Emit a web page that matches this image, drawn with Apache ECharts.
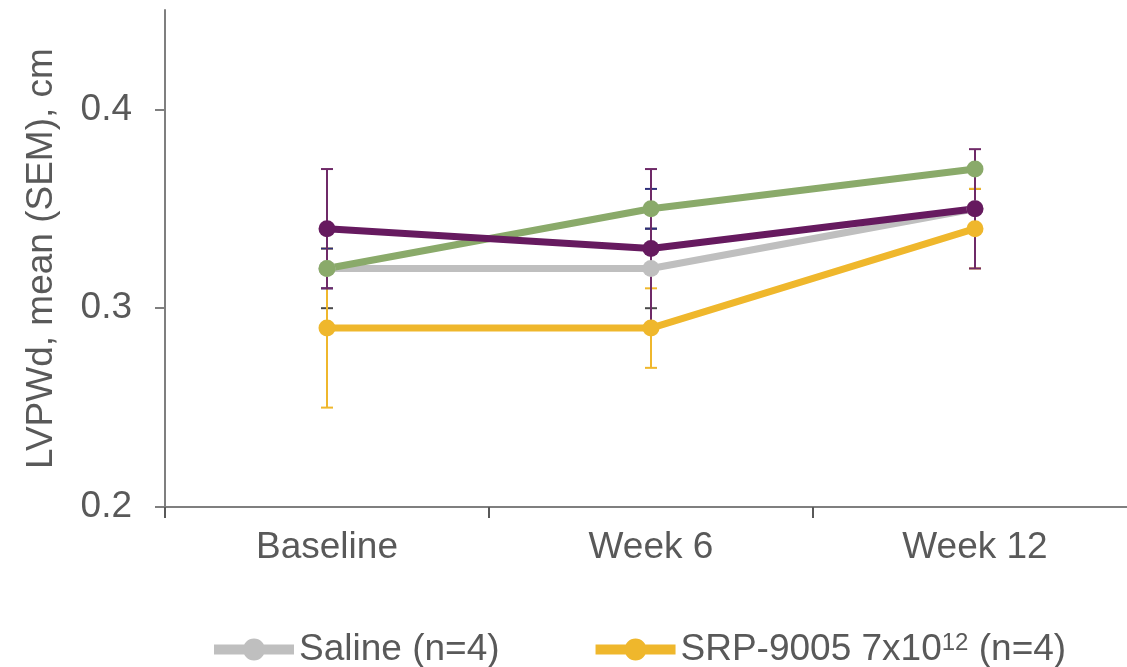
<!DOCTYPE html>
<html>
<head>
<meta charset="utf-8">
<title>LVPWd over time</title>
<script src="https://cdn.jsdelivr.net/npm/echarts@6/dist/echarts.min.js"></script>
<style>
  html, body { margin: 0; padding: 0; background: #fff; }
  #chart { width: 1127px; height: 667px; }
</style>
</head>
<body>
<div id="chart"></div>
<script>
// Time points on the x axis
const categories = ['Baseline', 'Week 6', 'Week 12'];
// Y-axis tick labels
const yTicks = [0.2, 0.3, 0.4];

// Group means (cm)
const salineMean = [0.32, 0.32, 0.35];
const lowDoseMean = [0.29, 0.29, 0.34];
const group3Mean = [0.32, 0.35, 0.37];
const group4Mean = [0.34, 0.33, 0.35];

// Standard errors of the mean (cm)
const salineSem = [0.02, 0.02, 0.01];
const lowDoseSem = [0.04, 0.02, 0.02];
const group3Sem = [0.01, 0.01, 0];
const group4Sem = [0.03, 0.04, 0.03];

const TEXT = '#595959';
const FONT = 'Liberation Sans, Arial, sans-serif';

const groups = [
  { name: 'Saline (n=4)', mean: salineMean, sem: salineSem, color: '#bfbfbf', errColor: '#4a4a4a' },
  { name: 'SRP-9005 7x10^12 (n=4)', mean: lowDoseMean, sem: lowDoseSem, color: '#efb72c', errColor: '#efb72c' },
  { name: 'Group 3', mean: group3Mean, sem: group3Sem, color: '#8aaa6a', errColor: '#2e2f7a' },
  { name: 'Group 4', mean: group4Mean, sem: group4Sem, color: '#661a5f', errColor: '#6f2a68' }
];

// Legend glyph: thick line with a dot in the middle (80 x 24 box)
const LEGEND_ICON = 'path://M0 7 H80 V17 H0 Z M40 1 A11 11 0 1 1 40 23 A11 11 0 1 1 40 1 Z';

// Error bar: vertical whisker with a short cap at each end
function errorBarRenderer(color) {
  return function (params, api) {
    const x = api.value(0);
    if (api.value(1) === api.value(2)) return null;
    const lo = api.coord([x, api.value(1)]);
    const hi = api.coord([x, api.value(2)]);
    const half = 6;
    const style = { stroke: color, lineWidth: 2, fill: null };
    return {
      type: 'group',
      children: [
        { type: 'line', shape: { x1: lo[0], y1: lo[1], x2: hi[0], y2: hi[1] }, style: style },
        { type: 'line', shape: { x1: lo[0] - half, y1: lo[1], x2: lo[0] + half, y2: lo[1] }, style: style },
        { type: 'line', shape: { x1: hi[0] - half, y1: hi[1], x2: hi[0] + half, y2: hi[1] }, style: style }
      ]
    };
  };
}

const errorSeries = groups.map(function (g) {
  return {
    type: 'custom',
    name: g.name + ' SEM',
    z: 1,
    silent: true,
    renderItem: errorBarRenderer(g.errColor),
    encode: { x: 0, y: [1, 2] },
    data: g.mean.map(function (m, i) {
      return [i, +(m - g.sem[i]).toFixed(4), +(m + g.sem[i]).toFixed(4)];
    })
  };
});

const lineSeries = groups.map(function (g) {
  return {
    type: 'line',
    name: g.name,
    z: 3,
    data: g.mean,
    symbol: 'circle',
    symbolSize: 17,
    showSymbol: true,
    lineStyle: { color: g.color, width: 7 },
    itemStyle: { color: g.color },
    emphasis: { disabled: true }
  };
});

const chart = echarts.init(document.getElementById('chart'), null, { renderer: 'canvas' });

chart.setOption({
  animation: false,
  backgroundColor: '#ffffff',
  textStyle: { fontFamily: FONT },
  grid: { left: 165, top: 10, width: 972, height: 497, outerBoundsMode: 'none', containLabel: false },
  legend: {
    data: [
      { name: groups[0].name, icon: LEGEND_ICON },
      { name: groups[1].name, icon: LEGEND_ICON }
    ],
    left: 209,
    top: 626,
    itemWidth: 80,
    itemHeight: 24,
    itemGap: 96,
    formatter: function (name) {
      if (name === groups[1].name) {
        return '{t|SRP-9005 7x10}{sup|12}{t| (n=4)}';
      }
      return '{t|' + name + '}';
    },
    textStyle: {
      color: TEXT,
      fontSize: 37,
      fontFamily: FONT,
      rich: {
        t: { fontSize: 37, color: TEXT, fontFamily: FONT },
        sup: { fontSize: 24, color: TEXT, fontFamily: FONT, verticalAlign: 'top', lineHeight: 37, padding: [0, 0, 14, 0] }
      }
    }
  },
  xAxis: {
    type: 'category',
    data: categories,
    boundaryGap: true,
    axisLine: { lineStyle: { color: '#7f7f7f', width: 2 } },
    axisTick: { show: true, length: 11, lineStyle: { color: '#595959', width: 2 } },
    axisLabel: { color: TEXT, fontSize: 37, margin: 22, fontFamily: FONT },
    splitLine: { show: false }
  },
  yAxis: {
    type: 'value',
    min: 0.2,
    max: 0.45,
    interval: 0.1,
    name: 'LVPWd, mean (SEM), cm',
    nameLocation: 'middle',
    nameRotate: 90,
    nameGap: 105,
    nameTextStyle: { color: TEXT, fontSize: 37, fontFamily: FONT },
    axisLine: { show: true, lineStyle: { color: '#7f7f7f', width: 2 } },
    axisTick: { show: true, length: 10, customValues: yTicks, lineStyle: { color: '#7f7f7f', width: 2 } },
    axisLabel: {
      color: TEXT, fontSize: 37, margin: 33, fontFamily: FONT,
      customValues: yTicks,
      formatter: function (v) { return v.toFixed(1); }
    },
    splitLine: { show: false }
  },
  series: errorSeries.concat(lineSeries)
});
</script>
</body>
</html>
